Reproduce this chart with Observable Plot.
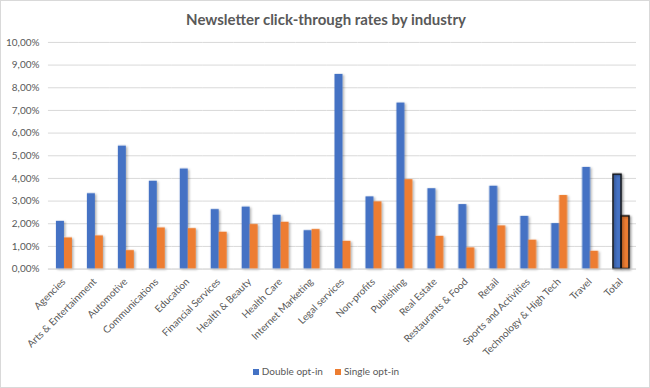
<!DOCTYPE html>
<html>
<head>
<meta charset="utf-8">
<script src="https://cdn.jsdelivr.net/npm/d3@7"></script>
<script src="https://cdn.jsdelivr.net/npm/@observablehq/plot@0.6"></script>
<style>
  body { margin: 0; background: #fff; }
  #wrap { position: relative; width: 650px; height: 388px; box-sizing: border-box; border: 1px solid #d9d9d9; overflow: hidden; background: #fff; font-family: Lato, "Open Sans", sans-serif; }
  #chart { position: absolute; left: -1px; top: -1px; }
  #title { position: absolute; left: 0; width: 650px; top: 9px; text-align: center; font-size: 15px; font-weight: bold; color: #595959; }
  #legend { position: absolute; left: 0; width: 650px; top: 364px; text-align: center; font-size: 10px; color: #595959; }
  .sw { display: inline-block; width: 6px; height: 6px; margin-right: 3px; vertical-align: 0px; }
  .item { display: inline-block; margin: 0 6px; }
</style>
</head>
<body>
<div id="wrap">
  <div id="chart"></div>
  <div id="title">Newsletter click-through rates by industry</div>
  <div id="legend"></div>
</div>
<script>
const industries = ["Agencies", "Arts & Entertainment", "Automotive", "Communications", "Education", "Financial Services", "Health & Beauty", "Health Care", "Internet Marketing", "Legal services", "Non-profits", "Publishing", "Real Estate", "Restaurants & Food", "Retail", "Sports and Activities", "Technology & High Tech", "Travel", "Total"];
const doubleOptIn = [2.11, 3.33, 5.43, 3.88, 4.42, 2.63, 2.74, 2.38, 1.70, 8.59, 3.19, 7.33, 3.55, 2.85, 3.66, 2.33, 2.01, 4.49, 4.17];
const singleOptIn = [1.38, 1.47, 0.82, 1.82, 1.79, 1.63, 1.97, 2.07, 1.75, 1.23, 2.97, 3.95, 1.45, 0.94, 1.91, 1.28, 3.25, 0.79, 2.33];
const seriesNames = ["Double opt-in", "Single opt-in"];
const seriesColors = ["#4472C4", "#ED7D31"];
const yTicks = [0, 1, 2, 3, 4, 5, 6, 7, 8, 9, 10];

const data = industries.flatMap((ind, i) => [
  {industry: ind, series: seriesNames[0], value: doubleOptIn[i]},
  {industry: ind, series: seriesNames[1], value: singleOptIn[i]}
]);

const fmt = d => d.toFixed(2).replace(".", ",") + "%";

const chart = Plot.plot({
  width: 650,
  height: 388,
  marginLeft: 47,
  marginRight: 13,
  marginTop: 42,
  marginBottom: 119,
  style: {fontFamily: "Lato, 'Open Sans', sans-serif", fontSize: "10px", color: "#595959", background: "transparent"},
  fx: {domain: industries, padding: 0, label: null, tickRotate: -45, tickSize: 0, tickPadding: 11},
  x: {domain: seriesNames, paddingInner: 0, paddingOuter: 0.9, axis: null},
  y: {domain: [0, 10], ticks: yTicks, tickFormat: fmt, label: null, tickSize: 0, tickPadding: 9},
  color: {domain: seriesNames, range: seriesColors},
  marks: [
    Plot.gridY(yTicks, {stroke: "#d9d9d9", strokeOpacity: 1, strokeWidth: 1}),
    Plot.barY(data, {fx: "industry", x: "series", y: "value", fill: "series"}),
    Plot.barY(data, {filter: d => d.industry === "Total", fx: "industry", x: "series", y: "value", fill: "none", stroke: "#111", strokeWidth: 1.5}),
    Plot.ruleY([0], {stroke: "#d9d9d9", strokeWidth: 1})
  ]
});

// subtle drop shadow on bars
const svg = d3.select(chart);
const defs = svg.insert("defs", ":first-child");
const f = defs.append("filter").attr("id", "shadow").attr("x", "-30%").attr("y", "-10%").attr("width", "180%").attr("height", "130%");
f.append("feDropShadow").attr("dx", 1.5).attr("dy", 1).attr("stdDeviation", 0.8).attr("flood-color", "#000").attr("flood-opacity", 0.3);
svg.selectAll('g[aria-label="bar"]').attr("filter", "url(#shadow)");

document.getElementById("chart").appendChild(chart);

const legend = document.getElementById("legend");
seriesNames.forEach((s, i) => {
  const item = document.createElement("span");
  item.className = "item";
  const sw = document.createElement("span");
  sw.className = "sw";
  sw.style.background = seriesColors[i];
  item.appendChild(sw);
  item.appendChild(document.createTextNode(s));
  legend.appendChild(item);
});
</script>
</body>
</html>
